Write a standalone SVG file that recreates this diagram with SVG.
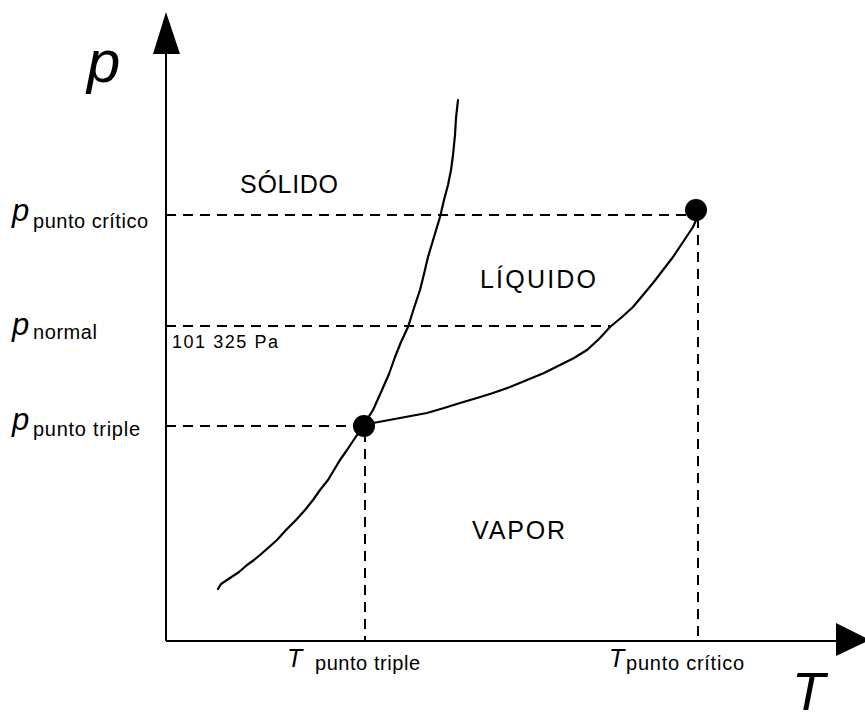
<svg xmlns="http://www.w3.org/2000/svg" width="865" height="717" viewBox="0 0 865 717">
<style>
  .ax{stroke:#000;stroke-width:2;fill:none}
  .cv{stroke:#000;stroke-width:2.2;fill:none;stroke-linejoin:round;stroke-linecap:round}
  .dash{stroke:#000;stroke-width:2;fill:none;stroke-dasharray:10 7}
  .t{font-family:"Liberation Sans",Arial,sans-serif;fill:#000}
  .it{font-style:italic}
  .reg{font-size:25px}
  .sub{font-size:20px;font-style:normal}
</style>
<rect width="865" height="717" fill="#fff"/>
<g id="axes">
  <line class="ax" x1="166" y1="50" x2="166" y2="641"/>
  <polygon points="166,12 180,54 153,54" fill="#000"/>
  <line class="ax" x1="166" y1="641" x2="840" y2="641"/>
  <polygon points="836,623 870,640 836,656" fill="#000"/>
</g>
<g id="connectors">
  <line class="dash" x1="166" y1="215" x2="690" y2="215"/>
  <line class="dash" x1="166" y1="326" x2="610" y2="326"/>
  <line class="dash" x1="166" y1="426" x2="360" y2="426"/>
  <line class="dash" x1="365" y1="432" x2="365" y2="641"/>
  <line class="dash" x1="698" y1="218" x2="698" y2="641"/>
</g>
<g id="curves">
  <polyline id="fusion" class="cv" points="218,589 221,584 230,578 239,572 247,565 254,560 260,555 268,548 277,540 286,530 296,520 305,510 313,500 320,490 328,480 334,470 340,460 347,450 355,438 363,426 373,410 382,390 389,374 395,357 401,342 408,327 414,308 420,290 424,274 428,257 434,237 440,217 444,200 448,185 451,170 453,155 455,135 456,118 458,100"/>
  <polyline id="vaporizacion" class="cv" points="365,426 373,423 400,418 427,413 444,408 460,403 477,398 493,393 510,387 527,380 544,373 560,365 574,358 587,350 599,339 610,327 622,317 633,307 643,295 653,283 663,270 673,257 683,242 693,227 697,218"/>
</g>
<g id="punto_triple"><circle cx="364" cy="426" r="11" fill="#000"/></g>
<g id="punto_critico"><circle cx="696" cy="210" r="11" fill="#000"/></g>
<g id="labels">
  <text class="t it" x="87" y="82" font-size="60">p</text>
  <text class="t it" x="792" y="710" font-size="54">T</text>
  <text class="t it" x="12" y="221" font-size="31">p<tspan class="sub" x="33" y="228" textLength="115" lengthAdjust="spacing">punto crítico</tspan></text>
  <text class="t it" x="12" y="335" font-size="31">p<tspan class="sub" x="33" y="339" textLength="64" lengthAdjust="spacing">normal</tspan></text>
  <text class="t it" x="12" y="430" font-size="31">p<tspan class="sub" x="33" y="436" textLength="107" lengthAdjust="spacing">punto triple</tspan></text>
  <text class="t" x="172" y="348" font-size="18" textLength="106" lengthAdjust="spacing">101 325 Pa</text>
  <text class="t it" x="287" y="667" font-size="25">T<tspan class="sub" x="315" y="670" textLength="105" lengthAdjust="spacing">punto triple</tspan></text>
  <text class="t it" x="609" y="667" font-size="25">T<tspan class="sub" x="626" y="670" textLength="118" lengthAdjust="spacing">punto crítico</tspan></text>
  <text class="t reg" x="240" y="193" textLength="98" lengthAdjust="spacing">SÓLIDO</text>
  <text class="t reg" x="480" y="288" textLength="116" lengthAdjust="spacing">LÍQUIDO</text>
  <text class="t reg" x="472" y="539" textLength="93" lengthAdjust="spacing">VAPOR</text>
</g>
</svg>
